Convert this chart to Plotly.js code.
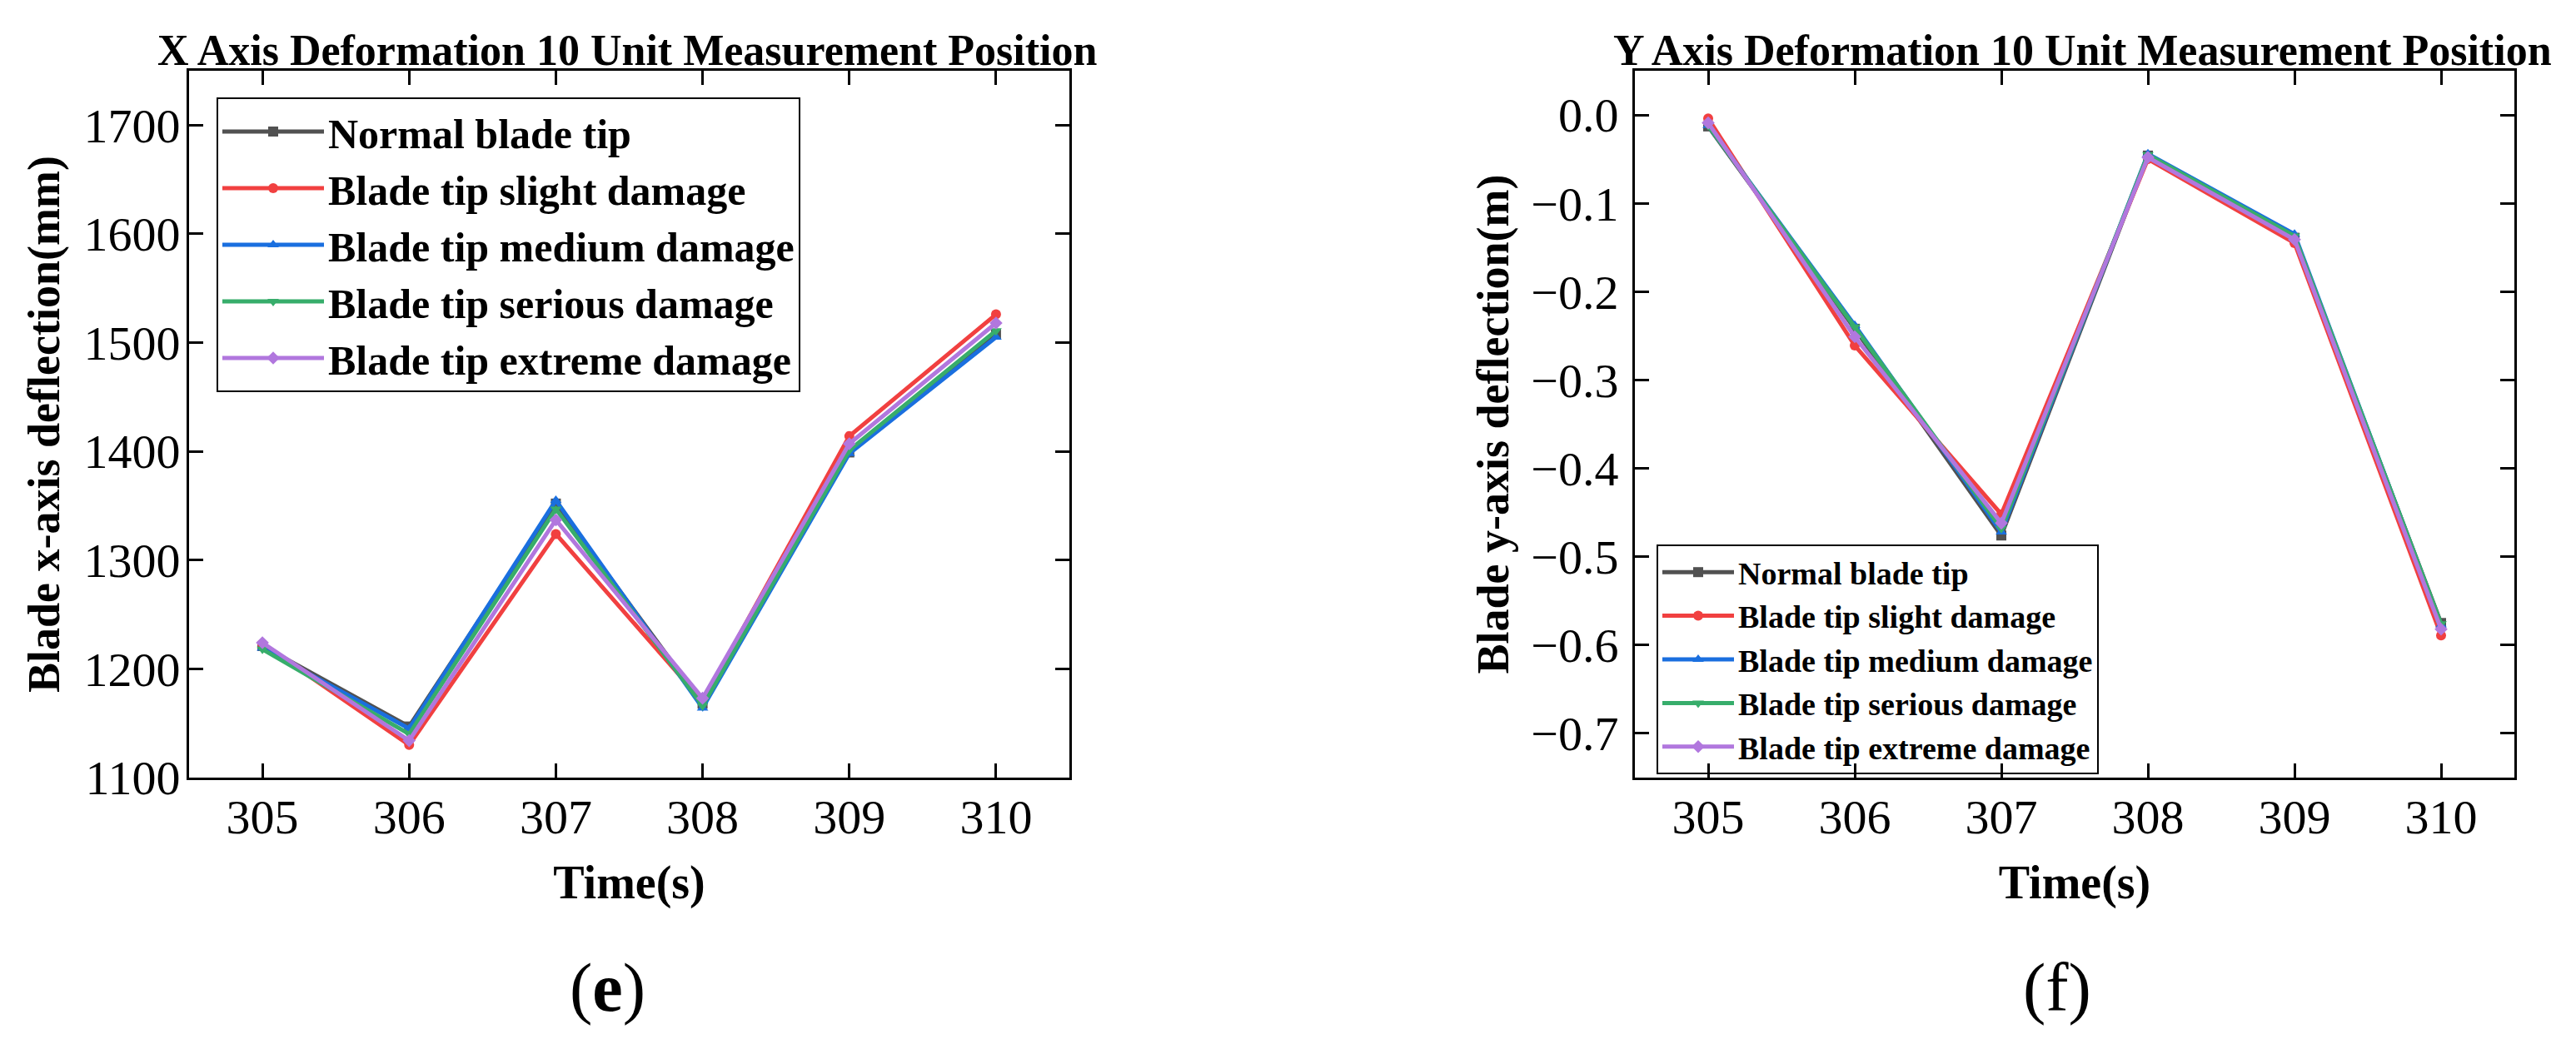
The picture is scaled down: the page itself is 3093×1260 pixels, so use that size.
<!DOCTYPE html>
<html>
<head>
<meta charset="utf-8">
<script src="https://cdn.plot.ly/plotly-3.0.1.min.js"></script>
<style>html,body{margin:0;padding:0;background:#fff;}#chart{width:3093px;height:1260px;}</style>
</head>
<body>
<div id="chart"></div>
<script>
// ---- data ----
const time = [305, 306, 307, 308, 309, 310];
const seriesNames = ["Normal blade tip", "Blade tip slight damage", "Blade tip medium damage", "Blade tip serious damage", "Blade tip extreme damage"];

// X axis deformation (mm)
const xNormal  = [1221, 1147, 1352, 1168, 1399, 1508];
const xSlight  = [1223, 1130, 1324, 1170, 1414, 1526];
const xMedium  = [1219, 1145, 1355, 1164, 1398, 1505];
const xSerious = [1218, 1140, 1347, 1166, 1401, 1511];
const xExtreme = [1224, 1134, 1337, 1173, 1407, 1518];

// Y axis deformation (m)
const yNormal  = [-0.013, -0.242, -0.476, -0.046, -0.139, -0.575];
const ySlight  = [-0.004, -0.261, -0.452, -0.050, -0.145, -0.589];
const yMedium  = [-0.012, -0.238, -0.472, -0.044, -0.135, -0.577];
const ySerious = [-0.012, -0.240, -0.468, -0.045, -0.137, -0.576];
const yExtreme = [-0.009, -0.251, -0.462, -0.048, -0.141, -0.582];

const xTickVals = [1100, 1200, 1300, 1400, 1500, 1600, 1700];
const yTickVals = [0, -0.1, -0.2, -0.3, -0.4, -0.5, -0.6, -0.7];
const minorTickVals = [304.5, 305.5, 306.5, 307.5, 308.5, 309.5, 310.5];

// ---- styles ----
const colors = ["#515151", "#F14040", "#1A6FDF", "#37AD6B", "#B177DE"];
const symbols = ["square", "circle", "triangle-up", "triangle-down", "diamond"];
const FONT = "Liberation Serif, Times New Roman, serif";

const xSets = [xNormal, xSlight, xMedium, xSerious, xExtreme];
const ySets = [yNormal, ySlight, yMedium, ySerious, yExtreme];

const traces = [];
xSets.forEach((vals, i) => {
  traces.push({
    x: time, y: vals, xaxis: "x", yaxis: "y", name: seriesNames[i], legend: "legend",
    mode: "lines+markers", type: "scatter",
    line: {color: colors[i], width: 5},
    marker: {symbol: symbols[i], size: 12, color: colors[i]}
  });
});
ySets.forEach((vals, i) => {
  traces.push({
    x: time, y: vals, xaxis: "x2", yaxis: "y2", name: seriesNames[i], legend: "legend2",
    mode: "lines+markers", type: "scatter",
    line: {color: colors[i], width: 5},
    marker: {symbol: symbols[i], size: 12, color: colors[i]}
  });
});

const W = 3093, H = 1260;
const yDom = [1 - 934 / H, 1 - 85 / H];

const tickFont = {family: FONT, size: 58, color: "#000"};
const xTitleFont = {family: FONT, size: 56, color: "#000", weight: "bold"};
const yTitleFont = {family: FONT, size: 54, color: "#000", weight: "bold"};

function xAxis(dom, anchor) {
  return {
    domain: dom, anchor: anchor, range: [304.5, 310.5],
    tickvals: time, ticks: "inside", ticklen: 17, tickwidth: 3, tickcolor: "#000",
    showline: true, linewidth: 3, linecolor: "#000", mirror: "ticks",
    showgrid: false, zeroline: false, tickfont: tickFont, ticklabelstandoff: -6,
    title: {text: "Time(s)", font: xTitleFont, standoff: 28}
  };
}

const layout = {
  width: W, height: H,
  margin: {l: 0, r: 0, t: 0, b: 0},
  paper_bgcolor: "#fff", plot_bgcolor: "#fff",
  showlegend: true,
  font: {family: FONT, color: "#000"},
  xaxis: xAxis([227 / W, 1284 / W], "y"),
  xaxis2: xAxis([1963 / W, 3019 / W], "y2"),
  xaxis3: {
    overlaying: "x2", anchor: "y2", side: "bottom", range: [304.5, 310.5],
    tickvals: minorTickVals, ticks: "outside", ticklen: 9, tickwidth: 3, tickcolor: "#000",
    showticklabels: false, showline: false, showgrid: false, zeroline: false
  },
  yaxis: {
    domain: yDom, anchor: "x", range: [1100, 1750],
    tickvals: xTickVals,
    ticks: "inside", ticklen: 17, tickwidth: 3, tickcolor: "#000",
    showline: true, linewidth: 3, linecolor: "#000", mirror: "ticks",
    showgrid: false, zeroline: false, tickfont: tickFont, ticklabelstandoff: -4,
    title: {text: "Blade x-axis deflection(mm)", font: yTitleFont, standoff: 12}
  },
  yaxis2: {
    domain: yDom, anchor: "x2", range: [-0.75, 0.05],
    tickvals: yTickVals, tickformat: ".1f",
    ticks: "inside", ticklen: 17, tickwidth: 3, tickcolor: "#000",
    showline: true, linewidth: 3, linecolor: "#000", mirror: "ticks",
    showgrid: false, zeroline: false, tickfont: tickFont, ticklabelstandoff: 5,
    title: {text: "Blade y-axis deflection(m)", font: yTitleFont, standoff: 10}
  },
  legend: {
    x: 260 / W, y: 1 - 117 / H, xanchor: "left", yanchor: "top",
    bgcolor: "rgba(255,255,255,0)", bordercolor: "#000", borderwidth: 2,
    font: {family: FONT, size: 50, color: "#000", weight: "bold"},
    itemwidth: 122, tracegroupgap: 0
  },
  legend2: {
    x: 1989 / W, y: 1 - 654 / H, xanchor: "left", yanchor: "top",
    bgcolor: "rgba(255,255,255,0)", bordercolor: "#000", borderwidth: 2,
    font: {family: FONT, size: 38, color: "#000", weight: "bold"},
    itemwidth: 86, tracegroupgap: 0
  },
  annotations: [
    {text: "X Axis Deformation 10 Unit Measurement Position", xref: "paper", yref: "paper",
     x: 753 / W, y: yDom[1], xanchor: "center", yanchor: "bottom", yshift: -6, showarrow: false,
     font: {family: FONT, size: 52, color: "#000", weight: "bold"}},
    {text: "Y Axis Deformation 10 Unit Measurement Position", xref: "paper", yref: "paper",
     x: 2500 / W, y: yDom[1], xanchor: "center", yanchor: "bottom", yshift: -6, showarrow: false,
     font: {family: FONT, size: 52, color: "#000", weight: "bold"}},
    {text: "(<b>e</b>)", xref: "paper", yref: "paper", x: 729 / W, y: 1 - 1186 / H,
     xanchor: "center", yanchor: "middle", showarrow: false,
     font: {family: FONT, size: 82, color: "#000"}},
    {text: "(f)", xref: "paper", yref: "paper", x: 2470 / W, y: 1 - 1186 / H,
     xanchor: "center", yanchor: "middle", showarrow: false,
     font: {family: FONT, size: 82, color: "#000"}}
  ]
};

Plotly.newPlot("chart", traces, layout, {staticPlot: true, displayModeBar: false});
</script>
</body>
</html>
